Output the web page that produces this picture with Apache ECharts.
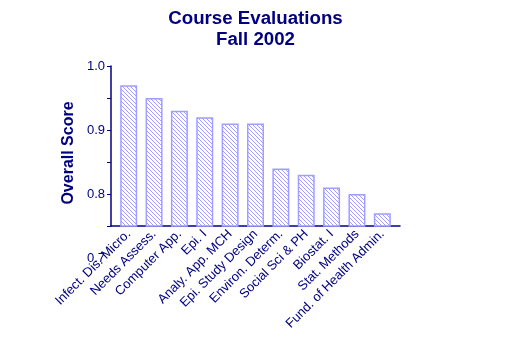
<!DOCTYPE html>
<html>
<head>
<meta charset="utf-8">
<script src="https://cdn.jsdelivr.net/npm/echarts@6/dist/echarts.min.js"></script>
<style>html,body{margin:0;padding:0;background:#fff;}#c{width:511px;height:338px;}</style>
</head>
<body>
<div id="c"></div>
<script>
var titleText = 'Course Evaluations\nFall 2002';
var yAxisName = 'Overall Score';
var categories = ['Infect. Dis. Micro.', 'Needs Assess.', 'Computer App.', 'Epi. I', 'Analy. App. MCH', 'Epi. Study Design', 'Environ. Determ.', 'Social Sci & PH', 'Biostat. I', 'Stat. Methods', 'Fund. of Health Admin.'];
var scores = [0.97, 0.95, 0.93, 0.92, 0.91, 0.91, 0.84, 0.83, 0.81, 0.80, 0.77];
var yMin = 0.75, yMax = 1.0, yTickStep = 0.05;
var labelMin = 0.7, labelStep = 0.1;

var navy = '#000080';
var hatchColor = '#9f9fff';
var font = 'Liberation Sans, Arial, sans-serif';

function makeHatch() {
  var c = document.createElement('canvas');
  c.width = 4; c.height = 4;
  var ctx = c.getContext('2d');
  ctx.fillStyle = '#ffffff';
  ctx.fillRect(0, 0, 4, 4);
  ctx.fillStyle = hatchColor;
  for (var i = 0; i < 4; i++) { ctx.fillRect(i, i, 1, 1); }
  return c;
}

var chart = echarts.init(document.getElementById('c'), null, {renderer: 'canvas'});
chart.setOption({
  animation: false,
  backgroundColor: '#ffffff',
  title: {
    text: titleText, left: 'center', top: 3,
    textStyle: {fontFamily: font, fontWeight: 'bold', fontSize: 18.7, color: navy, lineHeight: 21}
  },
  grid: [
    {left: 111, right: 111, top: 66, bottom: 112},
    {left: 116, right: 116, top: 66, bottom: 112},
    {left: 111, right: 111, top: 66, bottom: 80}
  ],
  xAxis: [
    {gridIndex: 0, type: 'category', data: categories, axisLine: {lineStyle: {color: navy, width: 1.5}}, axisTick: {show: false}, axisLabel: {show: false}},
    {gridIndex: 1, type: 'category', data: categories, axisLine: {show: false}, axisTick: {show: false},
      axisLabel: {rotate: 45, interval: 0, margin: 6, fontSize: 13, color: navy, fontFamily: font}},
    {gridIndex: 2, type: 'category', data: categories, show: false}
  ],
  yAxis: [
    {gridIndex: 0, type: 'value', min: yMin, max: yMax, interval: yTickStep,
      axisLine: {show: true, lineStyle: {color: navy, width: 1.5}}, axisTick: {show: true, length: 4, lineStyle: {color: navy}},
      axisLabel: {show: false}, splitLine: {show: false},
      name: yAxisName, nameLocation: 'middle', nameGap: 34,
      nameTextStyle: {fontFamily: font, fontWeight: 'bold', fontSize: 16, color: navy, padding: [0, 14, 0, 0]}},
    {gridIndex: 1, type: 'value', min: yMin, max: yMax, show: false},
    {gridIndex: 2, type: 'value', min: labelMin, max: yMax, interval: labelStep,
      axisLine: {show: false}, axisTick: {show: false}, splitLine: {show: false},
      axisLabel: {margin: 6, fontSize: 13, color: navy, fontFamily: font, formatter: function (v) { return v.toFixed(1); }}}
  ],
  series: [{
    type: 'bar', xAxisIndex: 1, yAxisIndex: 1, data: scores,
    barWidth: 17,
    itemStyle: {color: {image: makeHatch(), repeat: 'repeat'}, borderColor: hatchColor, borderWidth: 1.5}
  }]
});
</script>
</body>
</html>
